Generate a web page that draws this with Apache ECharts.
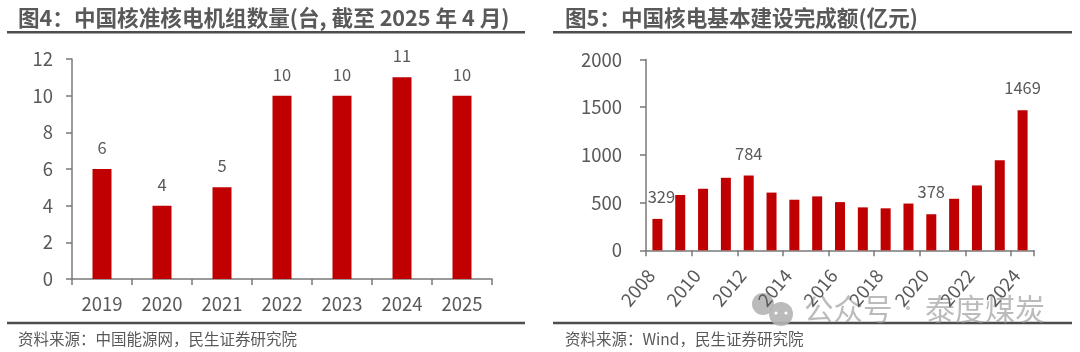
<!DOCTYPE html>
<html><head><meta charset="utf-8">
<script src="https://cdn.jsdelivr.net/npm/echarts@6/dist/echarts.min.js"></script>
<style>html,body{margin:0;padding:0;background:#fff}#c{width:1080px;height:352px}</style>
</head><body><div id="c"></div>
<script>
const unitYears = ['2019','2020','2021','2022','2023','2024','2025'];
const unitCounts = [6,4,5,10,10,11,10];
const unitTicks = [0,12,2];
const invYears = ['2008','2009','2010','2011','2012','2013','2014','2015','2016','2017','2018','2019','2020','2021','2022','2023','2024'];
const invValues = [329,580,645,760,784,605,530,565,505,450,440,490,378,540,680,945,1469];
const invLabelled = ['2008','2012','2020','2024'];
const invTicks = [0,2000,500];
const titleLeft = '图4\uFF1A中国核准核电机组数量(台, 截至 2025 年 4 月)';
const titleRight = '图5\uFF1A中国核电基本建设完成额(亿元)';
const sourceLeft = '资料来源\uFF1A中国能源网\uFF0C民生证券研究院';
const sourceRight = '资料来源\uFF1AWind\uFF0C民生证券研究院';

const FONT = '"Noto Sans CJK SC","Noto Sans",sans-serif';
const GREY = '#595959', AXIS = '#7a7a7a', RED = '#C00000';
const axisLine = {show:true,lineStyle:{color:AXIS,width:1.5}};
const axisTick = {show:true,length:6,lineStyle:{color:AXIS,width:1.5}};
const tickFont = {color:GREY,fontFamily:FONT,fontSize:18.5};
const rule = (x1,x2,y) => ({type:'line',shape:{x1,y1:y,x2,y2:y},style:{stroke:'#4d4d4d',lineWidth:2.6},silent:true});
const plain = v => String(v);
const chart = echarts.init(document.getElementById('c'),null,{renderer:'canvas'});
chart.setOption({
  animation:false,
  backgroundColor:'#fff',
  title:[
    {text:titleLeft,left:18,top:7,padding:0,textStyle:{color:GREY,fontFamily:FONT,fontSize:21.6,fontWeight:'bold'}},
    {text:titleRight,left:565,top:7,padding:0,textStyle:{color:GREY,fontFamily:FONT,fontSize:21.6,fontWeight:'bold'}},
    {text:sourceLeft,left:18,top:331,padding:0,textStyle:{color:GREY,fontFamily:FONT,fontSize:15.5,fontWeight:'normal'}},
    {text:sourceRight,left:565,top:331,padding:0,textStyle:{color:GREY,fontFamily:FONT,fontSize:15.5,fontWeight:'normal'}}
  ],
  grid:[
    {left:72,top:59,width:420,height:220,containLabel:false},
    {left:646,top:59.5,width:388,height:190.8,containLabel:false}
  ],
  xAxis:[
    {type:'category',gridIndex:0,data:unitYears,axisLine,axisTick:{...axisTick,alignWithLabel:false},
     axisLabel:{...tickFont,margin:16,interval:0}},
    {type:'category',gridIndex:1,data:invYears,axisLine,axisTick:{...axisTick,alignWithLabel:false,interval:1},
     axisLabel:{...tickFont,margin:14,interval:1,rotate:50,padding:[0,10,0,0]}}
  ],
  yAxis:[
    {type:'value',gridIndex:0,min:unitTicks[0],max:unitTicks[1],interval:unitTicks[2],splitLine:{show:false},axisLine,axisTick,
     axisLabel:{...tickFont,margin:19,formatter:plain}},
    {type:'value',gridIndex:1,min:invTicks[0],max:invTicks[1],interval:invTicks[2],splitLine:{show:false},axisLine,axisTick,
     axisLabel:{...tickFont,margin:24,formatter:plain}}
  ],
  series:[
    {type:'bar',xAxisIndex:0,yAxisIndex:0,data:unitCounts,barWidth:19,itemStyle:{color:RED},
     label:{show:true,position:'top',distance:13,color:GREY,fontFamily:FONT,fontSize:16.5}},
    {type:'bar',xAxisIndex:1,yAxisIndex:1,barWidth:10,itemStyle:{color:RED},
     data:invValues.map((v,i)=>{
       const on = invLabelled.includes(invYears[i]);
       return {value:v,label:{show:on,offset:invYears[i]==='2008'?[4,0]:[0,0]}};
     }),
     label:{position:'top',distance:14,color:GREY,fontFamily:FONT,fontSize:16.5}}
  ],
  graphic:[
    rule(7,525,32.3),rule(553,1072,32.3),rule(7,525,323),rule(553,1072,323),
    {type:'group',z:-1,silent:true,children:[
      {type:'circle',shape:{cx:763,cy:304,r:11},style:{fill:'rgba(170,170,170,0.8)'}},
      {type:'circle',shape:{cx:781,cy:314,r:12},style:{fill:'rgba(180,180,180,0.9)'}},
      {type:'circle',shape:{cx:776,cy:313,r:1.6},style:{fill:'#fff'}},
      {type:'circle',shape:{cx:786,cy:313,r:1.6},style:{fill:'#fff'}},
      {type:'text',style:{x:804,y:309,text:'公众号',fill:'rgba(150,150,150,0.65)',font:'29.5px '+FONT,verticalAlign:'middle'}},
      {type:'circle',shape:{cx:908,cy:308,r:2},style:{fill:'rgba(170,170,170,0.7)'}},
      {type:'text',style:{x:925,y:309,text:'泰度煤炭',fill:'rgba(150,150,150,0.65)',font:'30px '+FONT,verticalAlign:'middle'}}
    ]}
  ]
});
</script></body></html>
